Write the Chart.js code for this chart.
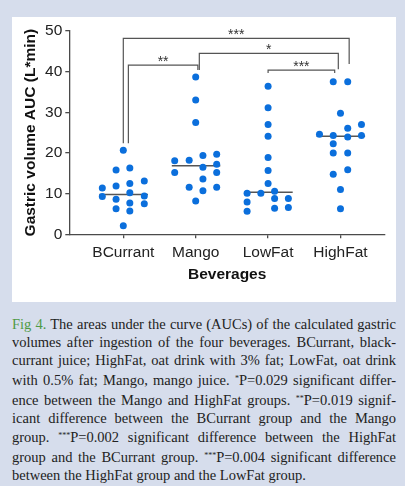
<!DOCTYPE html>
<html lang="en">

<head>
    <meta charset="UTF-8">
    <meta name="viewport" content="width=device-width, initial-scale=1.0">
    <script src="https://cdn.jsdelivr.net/npm/chart.js@4"></script>
    <title>Fig 4</title>
    <style>
        body {
            margin: 0;
            width: 405px;
            height: 486px;
            background: #d6ddec;
            position: relative;
            overflow: hidden;
        }

        .panel {
            position: absolute;
            left: 12px;
            top: 17px;
            width: 384px;
            height: 285px;
            background: #fff;
        }

        .caption {
            position: absolute;
            left: 12px;
            top: 316px;
            width: 384px;
            font-family: "Liberation Serif", serif;
            font-size: 14.5px;
            line-height: 17.9px;
            color: #222;
        }

        .caption div {
            text-align: justify;
            text-align-last: justify;
            white-space: nowrap;
        }

        .caption div.last {
            text-align-last: left;
        }

        .caption .fig {
            color: #4f9a45;
        }

        .caption sup {
            font-size: 8px;
            vertical-align: 4px;
        }
    </style>
</head>

<body>
    <div class="panel">
        <canvas id="myChart"></canvas>
    </div>

    <div class="caption">
        <div><span class="fig">Fig 4.</span> The areas under the curve (AUCs) of the calculated gastric</div>
        <div>volumes after ingestion of the four beverages. BCurrant, black-</div>
        <div>currant juice; HighFat, oat drink with 3% fat; LowFat, oat drink</div>
        <div>with 0.5% fat; Mango, mango juice. <sup>*</sup>P=0.029 significant differ-</div>
        <div>ence between the Mango and HighFat groups. <sup>**</sup>P=0.019 signif-</div>
        <div>icant difference between the BCurrant group and the Mango</div>
        <div>group. <sup>***</sup>P=0.002 significant difference between the HighFat</div>
        <div>group and the BCurrant group. <sup>***</sup>P=0.004 significant difference</div>
        <div class="last">between the HighFat group and the LowFat group.</div>
    </div>

    <script>
        // groups on the x axis
        const categories = ["BCurrant", "Mango", "LowFat", "HighFat"];

        // AUC values per subject (L*min)
        const bcurrantAuc = [20.7, 15.8, 16.3, 11.4, 11.9, 12.5, 13.1, 9.3, 10.2, 9.4, 8.6, 7.7, 7.5, 6.3, 5.7, 2.1];
        const mangoAuc = [38.7, 33.0, 27.5, 18.1, 18.2, 19.4, 19.7, 15.2, 16.5, 17.2, 15.2, 13.6, 11.6, 11.6, 10.7, 8.2];
        const lowFatAuc = [36.4, 31.1, 27.0, 24.1, 18.9, 15.7, 12.5, 10.1, 10.1, 10.6, 7.95, 8.8, 8.8, 5.65, 6.4, 6.6];
        const highFatAuc = [37.5, 37.5, 29.75, 27.0, 26.1, 24.6, 24.3, 23.9, 24.3, 22.3, 20.0, 20.0, 15.9, 14.75, 11.0, 6.3];

        // horizontal spread of the dots inside each column (category units)
        const bcurrantJitter = [0, -0.1, 0.09, -0.29, -0.1, 0.09, 0.29, -0.29, 0.09, 0.29, -0.1, 0.09, 0.29, -0.1, 0.09, 0];
        const mangoJitter = [0, 0, 0, -0.29, -0.09, 0.1, 0.29, -0.29, 0.1, 0.29, 0.29, 0.1, -0.09, 0.29, 0.1, 0];
        const lowFatJitter = [0, 0, 0, 0, 0, 0, 0, -0.29, -0.1, 0.09, -0.29, 0.09, 0.28, -0.29, 0.09, 0.28];
        const highFatJitter = [-0.1, 0.1, 0, 0.29, 0.1, -0.29, -0.1, 0.1, 0.29, -0.1, -0.1, 0.1, 0.1, -0.1, 0, 0];

        const yTicks = [0, 10, 20, 30, 40, 50];

        // significance brackets: from/to in category units, heights in L*min
        const bracketFrom = [0, 0.07, 1.05, 2.0];
        const bracketTo = [3.12, 1.03, 2.97, 2.92];
        const bracketTop = [48.2, 41.6, 44.5, 40.4];
        const bracketFromEnd = [22.4, 22.4, 40.4, 39.7];
        const bracketToEnd = [41.9, 40.4, 40.6, 39.7];
        const bracketLabels = ["***", "**", "*", "***"];

        const groups = [bcurrantAuc, mangoAuc, lowFatAuc, highFatAuc];
        const jitters = [bcurrantJitter, mangoJitter, lowFatJitter, highFatJitter];

        function median(arr) {
            const s = arr.slice().sort((a, b) => a - b);
            const m = s.length >> 1;
            return s.length % 2 ? s[m] : (s[m - 1] + s[m]) / 2;
        }

        const datasets = [];
        groups.forEach((vals, i) => {
            datasets.push({
                type: "scatter",
                label: categories[i],
                data: vals.map((v, j) => ({ x: i + jitters[i][j], y: v })),
                backgroundColor: "#0b6fdc",
                borderWidth: 0,
                pointRadius: 3.5,
                order: 1
            });
            const med = median(vals);
            datasets.push({
                type: "line",
                label: categories[i] + " median",
                data: [{ x: i - 0.33, y: med }, { x: i + 0.34, y: med }],
                borderColor: "#555",
                borderWidth: 1.5,
                pointRadius: 0,
                fill: false,
                order: 2
            });
        });

        const bracketPlugin = {
            id: "brackets",
            afterDatasetsDraw(chart) {
                const { ctx, scales: { x, y } } = chart;
                ctx.save();
                ctx.strokeStyle = "#555";
                ctx.lineWidth = 1.2;
                ctx.fillStyle = "#333";
                ctx.font = "14px 'Liberation Sans', Arial, sans-serif";
                ctx.textAlign = "center";
                ctx.textBaseline = "alphabetic";
                bracketLabels.forEach((lab, i) => {
                    const x1 = x.getPixelForValue(bracketFrom[i]);
                    const x2 = x.getPixelForValue(bracketTo[i]);
                    const yt = y.getPixelForValue(bracketTop[i]);
                    ctx.beginPath();
                    ctx.moveTo(x1, y.getPixelForValue(bracketFromEnd[i]));
                    ctx.lineTo(x1, yt);
                    ctx.lineTo(x2, yt);
                    ctx.lineTo(x2, y.getPixelForValue(bracketToEnd[i]));
                    ctx.stroke();
                    ctx.fillText(lab, (x1 + x2) / 2, yt + 1);
                });
                ctx.restore();
            }
        };

        new Chart("myChart", {
            data: { datasets: datasets },
            plugins: [bracketPlugin],
            options: {
                responsive: true,
                maintainAspectRatio: false,
                animation: false,
                layout: { padding: { left: 0, top: 14, right: 11, bottom: 13.7 } },
                plugins: {
                    legend: { display: false },
                    tooltip: { enabled: false }
                },
                scales: {
                    x: {
                        type: "linear",
                        min: -0.746,
                        max: 3.615,
                        afterBuildTicks: (s) => { s.ticks = categories.map((_, i) => ({ value: i })); },
                        afterFit: (s) => { s.height = 54; },
                        ticks: {
                            callback: (v) => categories[v],
                            color: "#222",
                            font: { family: "'Liberation Sans', Arial, sans-serif", size: 15.5 },
                            padding: 5,
                            maxRotation: 0
                        },
                        grid: { drawOnChartArea: false, tickLength: 4, color: "#4a4a4a", lineWidth: 1.3 },
                        border: { color: "#4a4a4a", width: 1.3 },
                        title: {
                            display: true,
                            text: "Beverages",
                            color: "#111",
                            font: { family: "'Liberation Sans', Arial, sans-serif", size: 15.5, weight: "bold" },
                            padding: { top: 0, bottom: 4 }
                        }
                    },
                    y: {
                        min: 0,
                        max: 50,
                        afterBuildTicks: (s) => { s.ticks = yTicks.map((v) => ({ value: v })); },
                        afterFit: (s) => { s.width = 57.3; },
                        ticks: {
                            color: "#222",
                            font: { family: "'Liberation Sans', Arial, sans-serif", size: 15.5 },
                            padding: 3
                        },
                        grid: { drawOnChartArea: false, tickLength: 4, color: "#4a4a4a", lineWidth: 1.3 },
                        border: { color: "#4a4a4a", width: 1.3 },
                        title: {
                            display: true,
                            text: "Gastric volume AUC (L*min)",
                            color: "#111",
                            font: { family: "'Liberation Sans', Arial, sans-serif", size: 15.5, weight: "bold" },
                            padding: { top: 9, bottom: 0 }
                        }
                    }
                }
            }
        });
    </script>
</body>

</html>
